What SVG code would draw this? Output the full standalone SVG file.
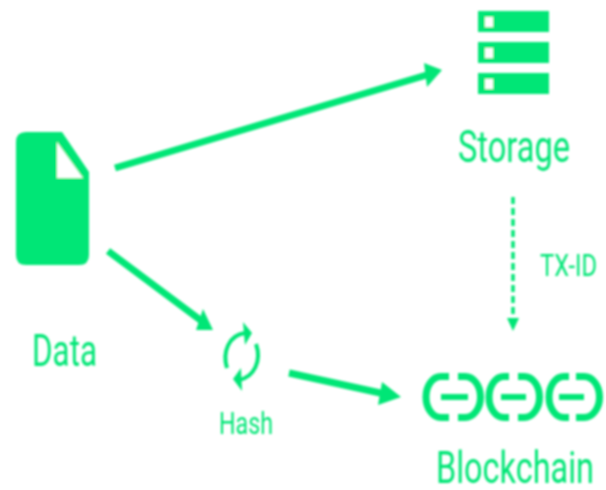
<svg xmlns="http://www.w3.org/2000/svg" width="606" height="490" viewBox="0 0 606 490">
<style>
.f{fill:#00e676}
.t{fill:#00e676;font-family:Roboto,"Liberation Sans",sans-serif;text-anchor:start}
.c{fill:none;stroke:#00e676}
.l{fill:none;stroke:#00e676;stroke-width:7}
.b{fill:none;stroke:#00e676;stroke-width:6}
</style>
<defs><filter id="s" x="-2%" y="-2%" width="104%" height="104%"><feGaussianBlur stdDeviation="0.8"/></filter></defs>
<rect width="606" height="490" fill="#fff"/>
<g filter="url(#s)">
<g id="connectors">
<path class="c" stroke-width="7" d="M115 168L430 74"/>
<path class="f" d="M442 70L424 63L427 87Z"/>
<path class="c" stroke-width="7" d="M108 251L203 322"/>
<path class="f" d="M213 330L203 309L196 330Z"/>
<path class="c" stroke-width="7" d="M289 373L385 394"/>
<path class="f" d="M401 397L382 382L378 405Z"/>
<path class="c" stroke-width="3.500" stroke-dasharray="7 4" d="M513 197V322"/>
<path class="f" d="M513 331L507 318H519Z"/>
</g>
<g id="data">
<path class="f" d="M26 132H62L89 172V255Q89 265 79 265H26Q16 265 16 255V142Q16 132 26 132Z"/>
<path fill="#fff" d="M57 142V178H83Z"/>
<text class="t" transform="translate(32 366) scale(1 1.222)" font-size="36" textLength="65" lengthAdjust="spacingAndGlyphs">Data</text>
</g>
<g id="hash">
<path class="c" stroke-width="4" d="M227 368C222 352 229 335 245 333"/>
<path class="f" d="M252 333L243 322L245 345Z"/>
<path class="c" stroke-width="4" d="M256 344C262 361 254 377 239 380"/>
<path class="f" d="M233 379L241 368L242 391Z"/>
<text class="t" transform="translate(219 434) scale(1 1.192)" font-size="26" textLength="54" lengthAdjust="spacingAndGlyphs">Hash</text>
</g>
<g id="storage">
<rect class="f" x="478" y="11" width="71" height="21"/>
<rect class="f" x="478" y="42" width="71" height="21"/>
<rect class="f" x="478" y="73" width="71" height="21"/>
<rect fill="#fff" x="485" y="17" width="8" height="10"/>
<rect fill="#fff" x="485" y="48" width="8" height="10"/>
<rect fill="#fff" x="485" y="79" width="8" height="10"/>
<text class="t" transform="translate(458 162) scale(1 1.294)" font-size="34" textLength="112" lengthAdjust="spacingAndGlyphs">Storage</text>
</g>
<g id="tx-id">
<text class="t" transform="translate(540 276) scale(1 1.455)" font-size="22" textLength="57" lengthAdjust="spacingAndGlyphs">TX-ID</text>
</g>
<g id="blockchain">
<path class="l" d="M449 376.500H441A15 20.500 0 0 0 441 417.500H449"/>
<path class="b" d="M441 397H468"/>
<path class="l" d="M458 376.500H465A15.500 20.500 0 0 1 465 417.500H458"/>
<path class="l" d="M509 376.500H504A15 20.500 0 0 0 504 417.500H509"/>
<path class="b" d="M501 397H526"/>
<path class="l" d="M518 376.500H524A15.500 20.500 0 0 1 524 417.500H518"/>
<path class="l" d="M569 376.500H564A15 20.500 0 0 0 564 417.500H569"/>
<path class="b" d="M559 397H584"/>
<path class="l" d="M576 376.500H584A15.500 20.500 0 0 1 584 417.500H576"/>
<text class="t" transform="translate(436 483) scale(1 1.375)" font-size="32" textLength="158" lengthAdjust="spacingAndGlyphs">Blockchain</text>
</g>
</g>
</svg>
